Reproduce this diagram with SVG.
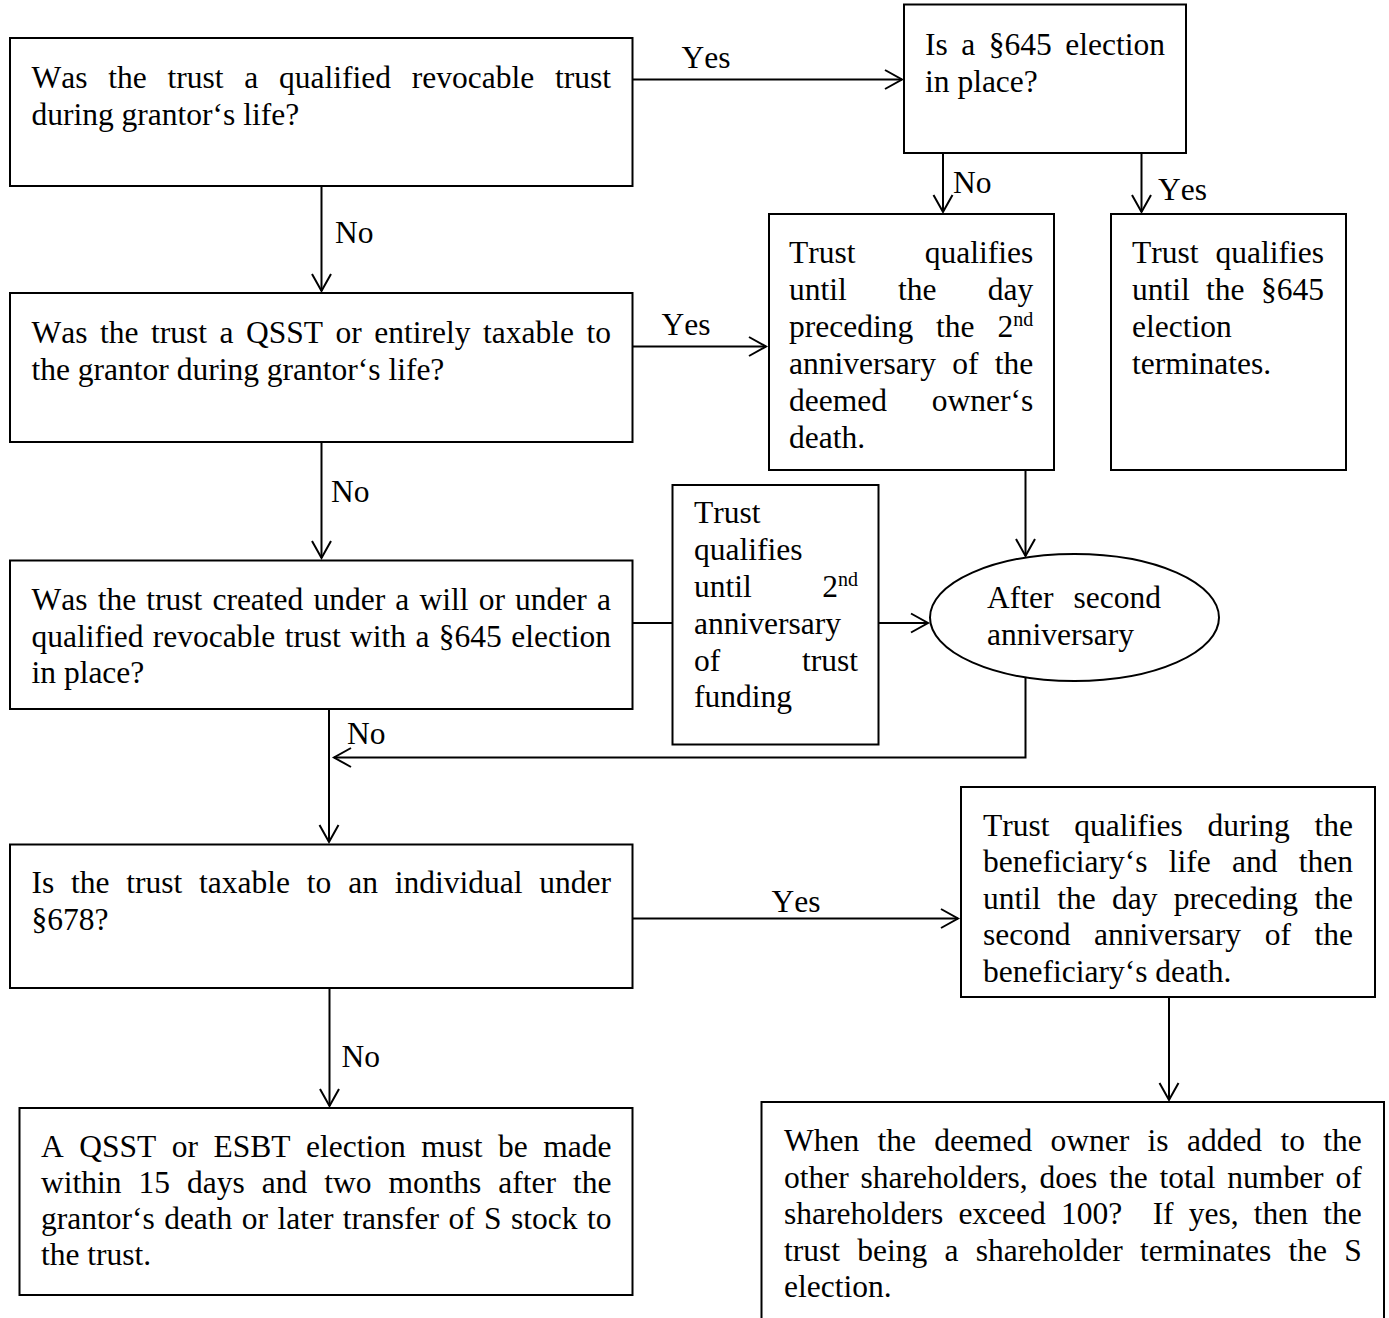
<svg xmlns="http://www.w3.org/2000/svg" width="1389" height="1318" viewBox="0 0 1389 1318">
  <style>
    .box { fill: #fff; stroke: #000; stroke-width: 2; }
    .t { font-family: "Liberation Serif", "Times New Roman", serif; font-size: 31.5px; fill: #000; font-kerning: none; font-variant-ligatures: none; }
    .edge { fill: none; stroke: #000; stroke-width: 2; }
    .arrow { marker-end: url(#arr); }
  </style>
  <defs>
    <marker id="arr" markerUnits="userSpaceOnUse" markerWidth="24" markerHeight="24" viewBox="-20 -12 22 24" refX="0" refY="0" orient="auto">
      <path d="M-17,-9.5 L0,0 L-17,9.5" fill="none" stroke="#000" stroke-width="2"/>
    </marker>
  </defs>
  <rect width="1389" height="1318" fill="#fff"/>

  <!-- connectors -->
  <g id="connectors">
    <line class="edge arrow" x1="633" y1="79.5" x2="902" y2="79.5"/>
    <line class="edge arrow" x1="321.5" y1="186" x2="321.5" y2="291"/>
    <line class="edge arrow" x1="633" y1="346.5" x2="766" y2="346.5"/>
    <line class="edge arrow" x1="943" y1="153" x2="943" y2="212"/>
    <line class="edge arrow" x1="1141.5" y1="153" x2="1141.5" y2="212"/>
    <line class="edge arrow" x1="1025.5" y1="470" x2="1025.5" y2="556"/>
    <line class="edge arrow" x1="321.5" y1="442" x2="321.5" y2="558"/>
    <line class="edge" x1="633" y1="623" x2="672.5" y2="623"/>
    <line class="edge arrow" x1="878.5" y1="623" x2="928" y2="623"/>
    <path class="edge arrow" d="M1025.5,677 L1025.5,757.5 L334,757.5"/>
    <line class="edge arrow" x1="329" y1="709" x2="329" y2="842"/>
    <line class="edge arrow" x1="329.5" y1="988" x2="329.5" y2="1106"/>
    <line class="edge arrow" x1="633" y1="918.5" x2="958" y2="918.5"/>
    <line class="edge arrow" x1="1169" y1="997" x2="1169" y2="1100"/>
    <text class="t" x="681.5" y="67.5">Yes</text>
    <text class="t" x="335" y="243">No</text>
    <text class="t" x="661.5" y="334.5">Yes</text>
    <text class="t" x="953" y="193">No</text>
    <text class="t" x="1158" y="200">Yes</text>
    <text class="t" x="331" y="502">No</text>
    <text class="t" x="347" y="743.5">No</text>
    <text class="t" x="341.5" y="1067">No</text>
    <text class="t" x="771.5" y="912">Yes</text>
  </g>

  <g id="q-revocable">
    <rect class="box" x="10" y="38" width="622.5" height="148"/>
    <text class="t" x="31.5" y="88" word-spacing="12.89">Was the trust a qualified revocable trust</text>
    <text class="t" x="31.5" y="125">during grantor‘s life?</text>
  </g>

  <g id="q-645">
    <rect class="box" x="904" y="4.5" width="282" height="148.5"/>
    <text class="t" x="925" y="55" word-spacing="5.64">Is a §645 election</text>
    <text class="t" x="925" y="91.5">in place?</text>
  </g>

  <g id="r-deemed-owner">
    <rect class="box" x="769" y="214" width="285" height="256"/>
    <text class="t" x="789" y="263" word-spacing="61.44">Trust qualifies</text>
    <text class="t" x="789" y="300" word-spacing="43.4">until the day</text>
    <text class="t" x="789" y="337" word-spacing="15.05">preceding the 2<tspan font-size="20" dy="-11">nd</tspan></text>
    <text class="t" x="789" y="374" word-spacing="8.43">anniversary of the</text>
    <text class="t" x="789" y="411" word-spacing="37">deemed owner‘s</text>
    <text class="t" x="789" y="448">death.</text>
  </g>

  <g id="r-645-term">
    <rect class="box" x="1111" y="214" width="235" height="256"/>
    <text class="t" x="1132" y="263" word-spacing="9.14">Trust qualifies</text>
    <text class="t" x="1132" y="300" word-spacing="8.49">until the §645</text>
    <text class="t" x="1132" y="337">election</text>
    <text class="t" x="1132" y="374">terminates.</text>
  </g>

  <g id="q-qsst">
    <rect class="box" x="10" y="293" width="622.5" height="149"/>
    <text class="t" x="31.5" y="343" word-spacing="4.63">Was the trust a QSST or entirely taxable to</text>
    <text class="t" x="31.5" y="380">the grantor during grantor‘s life?</text>
  </g>

  <g id="r-funding">
    <rect class="box" x="672.5" y="485" width="206" height="259.5"/>
    <text class="t" x="694" y="523">Trust</text>
    <text class="t" x="694" y="560">qualifies</text>
    <text class="t" x="694" y="597">until</text>
    <text class="t" x="858" y="597" text-anchor="end">2<tspan font-size="20" dy="-11">nd</tspan></text>
    <text class="t" x="694" y="634">anniversary</text>
    <text class="t" x="694" y="670.5">of</text>
    <text class="t" x="858" y="670.5" text-anchor="end">trust</text>
    <text class="t" x="694" y="707">funding</text>
  </g>

  <g id="s-second-anniversary">
    <ellipse class="box" cx="1074.5" cy="617.5" rx="144.5" ry="63.5"/>
    <text class="t" x="987" y="608">After</text>
    <text class="t" x="1161" y="608" text-anchor="end">second</text>
    <text class="t" x="987" y="645">anniversary</text>
  </g>

  <g id="q-will">
    <rect class="box" x="10" y="560.5" width="622.5" height="148.5"/>
    <text class="t" x="31.5" y="610" word-spacing="2.28">Was the trust created under a will or under a</text>
    <text class="t" x="31.5" y="646.5" word-spacing="1.52">qualified revocable trust with a §645 election</text>
    <text class="t" x="31.5" y="683">in place?</text>
  </g>

  <g id="q-678">
    <rect class="box" x="10" y="844.5" width="622.5" height="143.5"/>
    <text class="t" x="31.5" y="893" word-spacing="8.92">Is the trust taxable to an individual under</text>
    <text class="t" x="31.5" y="930">§678?</text>
  </g>

  <g id="r-election">
    <rect class="box" x="19.5" y="1108" width="613" height="187"/>
    <text class="t" x="41" y="1157" word-spacing="7.63">A QSST or ESBT election must be made</text>
    <text class="t" x="41" y="1193" word-spacing="9.13">within 15 days and two months after the</text>
    <text class="t" x="41" y="1229" word-spacing="1.55">grantor‘s death or later transfer of S stock to</text>
    <text class="t" x="41" y="1265">the trust.</text>
  </g>

  <g id="r-beneficiary">
    <rect class="box" x="961" y="787" width="414" height="210"/>
    <text class="t" x="983" y="835.5" word-spacing="16.88">Trust qualifies during the</text>
    <text class="t" x="983" y="872" word-spacing="13.41">beneficiary‘s life and then</text>
    <text class="t" x="983" y="908.5" word-spacing="8.51">until the day preceding the</text>
    <text class="t" x="983" y="945" word-spacing="15.74">second anniversary of the</text>
    <text class="t" x="983" y="981.5">beneficiary‘s death.</text>
  </g>

  <g id="r-shareholders">
    <rect class="box" x="761.5" y="1102" width="622.5" height="240"/>
    <text class="t" x="784" y="1151" word-spacing="10.43">When the deemed owner is added to the</text>
    <text class="t" x="784" y="1187.5" word-spacing="4.0">other shareholders, does the total number of</text>
    <text class="t" x="784" y="1224" word-spacing="7.32" xml:space="preserve">shareholders exceed 100?  If yes, then the</text>
    <text class="t" x="784" y="1260.5" word-spacing="9.4">trust being a shareholder terminates the S</text>
    <text class="t" x="784" y="1297">election.</text>
  </g>
</svg>
